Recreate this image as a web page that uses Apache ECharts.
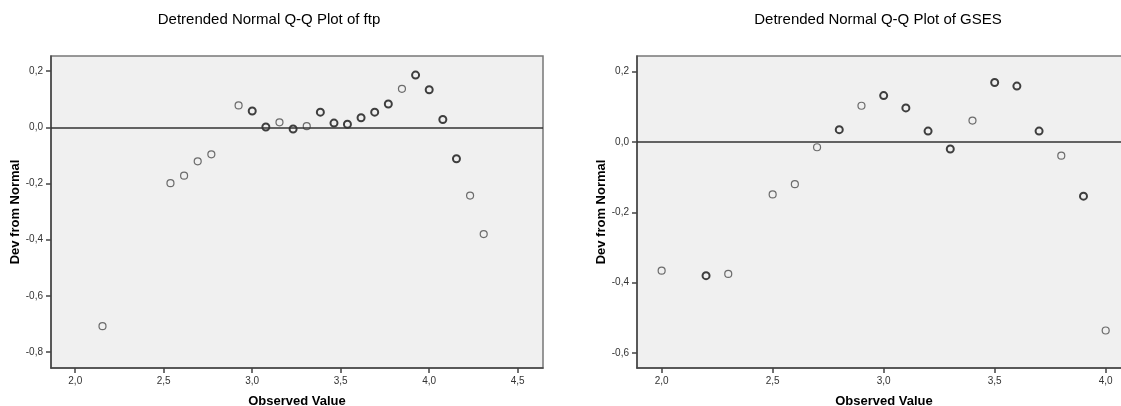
<!DOCTYPE html>
<html>
<head>
<meta charset="utf-8">
<script src="https://cdn.jsdelivr.net/npm/echarts@6/dist/echarts.min.js"></script>
<style>
html,body{margin:0;padding:0;background:#fff;}
#c{width:1121px;height:406px;}
</style>
</head>
<body>
<div id="c"></div>
<script>
// ---- Data: Detrended Normal Q-Q Plot of ftp ----
var ftpObserved = [2.154, 2.538, 2.615, 2.692, 2.769, 2.923, 3.000, 3.077, 3.154, 3.231, 3.308, 3.385, 3.462, 3.538, 3.615, 3.692, 3.769, 3.846, 3.923, 4.000, 4.077, 4.154, 4.231, 4.308];
var ftpDev      = [-0.708, -0.199, -0.172, -0.121, -0.096, 0.078, 0.058, 0.001, 0.018, -0.006, 0.004, 0.054, 0.015, 0.011, 0.034, 0.054, 0.083, 0.137, 0.186, 0.134, 0.028, -0.112, -0.243, -0.380];
var ftpDense    = [0, 0, 0, 0, 0, 0, 1, 1, 0, 1, 0, 1, 1, 1, 1, 1, 1, 0, 1, 1, 1, 1, 0, 0];

// ---- Data: Detrended Normal Q-Q Plot of GSES ----
var gsesObserved = [2.0, 2.2, 2.3, 2.5, 2.6, 2.7, 2.8, 2.9, 3.0, 3.1, 3.2, 3.3, 3.4, 3.5, 3.6, 3.7, 3.8, 3.9, 4.0];
var gsesDev      = [-0.366, -0.380, -0.375, -0.149, -0.120, -0.015, 0.035, 0.103, 0.132, 0.097, 0.031, -0.020, 0.061, 0.169, 0.159, 0.031, -0.039, -0.154, -0.536];
var gsesDense    = [0, 1, 0, 0, 0, 0, 1, 0, 1, 1, 1, 1, 0, 1, 1, 1, 0, 1, 0];

// ---- Tick values ----
var ftpXTicks  = [2.0, 2.5, 3.0, 3.5, 4.0, 4.5];
var ftpYTicks  = [-0.8, -0.6, -0.4, -0.2, 0.0, 0.2];
var gsesXTicks = [2.0, 2.5, 3.0, 3.5, 4.0];
var gsesYTicks = [-0.6, -0.4, -0.2, 0.0, 0.2];

var titles = ['Detrended Normal Q-Q Plot of ftp', 'Detrended Normal Q-Q Plot of GSES'];
var xName = 'Observed Value';
var yName = 'Dev from Normal';

var FONT = '"Liberation Sans", Arial, sans-serif';

function fmt1(v) { return v.toFixed(1).replace('.', ','); }

function buildData(xs, ys, dense) {
  return xs.map(function (x, i) {
    return {
      value: [x, ys[i]],
      itemStyle: dense[i]
        ? { color: 'rgba(0,0,0,0)', borderColor: '#111', borderWidth: 2 }
        : { color: 'rgba(0,0,0,0)', borderColor: '#4a4a4a', borderWidth: 1.2 }
    };
  });
}

function xAxisCfg(idx, min, max, ticks) {
  return {
    type: 'value', gridIndex: idx, min: min, max: max,
    name: xName, nameLocation: 'middle', nameGap: 27,
    nameTextStyle: { fontFamily: FONT, fontWeight: 'bold', fontSize: 13, color: '#000' },
    axisLine: { onZero: false, lineStyle: { color: '#444', width: 1.5 } },
    axisTick: { show: true, length: 5, customValues: ticks, lineStyle: { color: '#444', width: 1.5 } },
    axisLabel: { customValues: ticks, formatter: fmt1, margin: 8, fontFamily: FONT, fontSize: 10, color: '#333' },
    splitLine: { show: false }
  };
}

function yAxisCfg(idx, min, max, ticks) {
  return {
    type: 'value', gridIndex: idx, min: min, max: max,
    name: yName, nameLocation: 'middle', nameGap: 27, nameRotate: 90,
    nameTextStyle: { fontFamily: FONT, fontWeight: 'bold', fontSize: 13, color: '#000' },
    axisLine: { show: true, onZero: false, lineStyle: { color: '#444', width: 1.5 } },
    axisTick: { show: true, length: 5, customValues: ticks, lineStyle: { color: '#444', width: 1.5 } },
    axisLabel: { customValues: ticks, formatter: fmt1, margin: 8, fontFamily: FONT, fontSize: 10, color: '#333' },
    splitLine: { show: false }
  };
}

function seriesCfg(idx, xs, ys, dense) {
  return {
    type: 'scatter', xAxisIndex: idx, yAxisIndex: idx,
    symbol: 'circle', symbolSize: 7,
    data: buildData(xs, ys, dense),
    markLine: {
      silent: true, symbol: ['none', 'none'], label: { show: false },
      lineStyle: { color: '#333', width: 1.5, type: 'solid' },
      data: [{ yAxis: 0 }],
      animation: false
    },
    z: 3
  };
}

var chart = echarts.init(document.getElementById('c'), null, { renderer: 'canvas' });
chart.setOption({
  animation: false,
  backgroundColor: '#fff',
  grid: [
    { left: 51, top: 56, width: 492, height: 312, outerBoundsMode: 'none', containLabel: false, show: true, backgroundColor: '#f0f0f0', borderColor: '#777', borderWidth: 1.5 },
    { left: 637, top: 56, width: 494, height: 312, outerBoundsMode: 'none', containLabel: false, show: true, backgroundColor: '#f0f0f0', borderColor: '#777', borderWidth: 1.5 }
  ],
  xAxis: [
    xAxisCfg(0, 1.863, 4.643, ftpXTicks),
    xAxisCfg(1, 1.889, 4.114, gsesXTicks)
  ],
  yAxis: [
    yAxisCfg(0, -0.857, 0.254, ftpYTicks),
    yAxisCfg(1, -0.6426, 0.2445, gsesYTicks)
  ],
  series: [
    seriesCfg(0, ftpObserved, ftpDev, ftpDense),
    seriesCfg(1, gsesObserved, gsesDev, gsesDense)
  ],
  graphic: [
    { type: 'text', x: 269, y: 20, style: { text: titles[0], fontFamily: FONT, fontSize: 15, fill: '#000', align: 'center', verticalAlign: 'middle' } },
    { type: 'text', x: 878, y: 20, style: { text: titles[1], fontFamily: FONT, fontSize: 15, fill: '#000', align: 'center', verticalAlign: 'middle' } }
  ]
});
</script>
</body>
</html>
